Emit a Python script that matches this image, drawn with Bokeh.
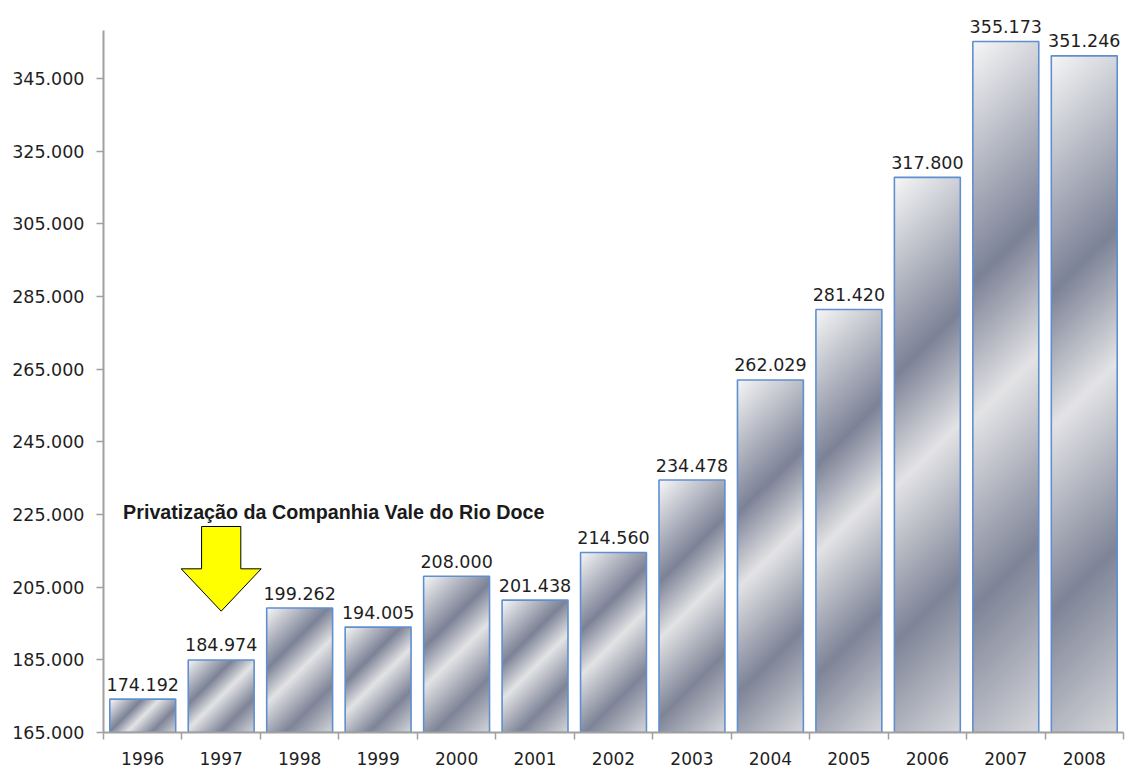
import numpy as np
from bokeh.plotting import figure
from bokeh.models import (Range1d, LinearAxis, FixedTicker, Label)
from bokeh.embed import file_html
from bokeh.resources import INLINE
from bokeh.core.properties import value

# ---------------- data ----------------
years = ["1996", "1997", "1998", "1999", "2000", "2001", "2002",
         "2003", "2004", "2005", "2006", "2007", "2008"]
production = [174192, 184974, 199262, 194005, 208000, 201438, 214560,
              234478, 262029, 281420, 317800, 355173, 351246]
y_ticks = [165000, 185000, 205000, 225000, 245000, 265000, 285000,
           305000, 325000, 345000]
annotation_text = "Privatização da Companhia Vale do Rio Doce"
annotated_year = "1997"


def fmt(v):
    return f"{v:,}".replace(",", ".")


# category centre positions on a numeric axis (one unit per year)
centers = [i + 0.5 for i in range(len(years))]
bounds = list(range(len(years) + 1))

# ---------------- layout / style ----------------
Y_MIN, Y_AXIS_TOP, Y_MAX = 165000, 358200, 364000
FIG_W, FIG_H = 1126, 770
B_L, B_R, B_T, B_B = 103, 3, 9, 38
BAR_W = 0.84
AXIS_GRAY = "#a0a0a0"
TEXT = "#1f1f1f"

p = figure(width=FIG_W, height=FIG_H,
           x_range=Range1d(0, len(years)),
           y_range=Range1d(Y_MIN, Y_MAX),
           output_backend="svg", toolbar_location=None,
           x_axis_location=None,
           min_border_left=B_L, min_border_right=B_R,
           min_border_top=B_T, min_border_bottom=B_B)
p.xgrid.visible = False
p.ygrid.visible = False
p.outline_line_color = None
p.background_fill_color = "white"
p.border_fill_color = "white"

# ---------------- gradient bar fills ----------------
frame_w = FIG_W - B_L - B_R
frame_h = FIG_H - B_T - B_B
cat_px = frame_w / len(years)
stops_t = [0.0, 0.32, 0.5, 0.75, 1.0]
stops_rgb = [(247, 247, 247), (125, 131, 151), (228, 228, 230),
             (127, 133, 152), (214, 215, 219)]


def gradient(w_px, h_px):
    w = max(int(round(w_px)), 2)
    h = max(int(round(h_px)), 2)
    xx, yy = np.meshgrid(np.arange(w), np.arange(h))
    y_top = (h - 1) - yy
    t = (xx + y_top) / float(w + h - 2)
    img = np.empty((h, w), dtype=np.uint32)
    view = img.view(dtype=np.uint8).reshape((h, w, 4))
    for c in range(3):
        view[..., c] = np.interp(t, stops_t, [s[c] for s in stops_rgb]).astype(np.uint8)
    view[..., 3] = 255
    return img


imgs, xs, ys, dws, dhs = [], [], [], [], []
for c, v in zip(centers, production):
    h_px = (v - Y_MIN) / (Y_MAX - Y_MIN) * frame_h
    imgs.append(gradient(BAR_W * cat_px, h_px))
    xs.append(c - BAR_W / 2)
    ys.append(Y_MIN)
    dws.append(BAR_W)
    dhs.append(v - Y_MIN)

p.image_rgba(image=imgs, x=xs, y=ys, dw=dws, dh=dhs)

p.vbar(x=centers, top=production, bottom=Y_MIN, width=BAR_W,
       fill_color=None, line_color="#5f8fcf", line_width=1.6)

# value labels
p.text(x=centers, y=production, text=[fmt(v) for v in production],
       text_align="center", text_baseline="alphabetic", y_offset=-15,
       text_font=value("DejaVu Sans"), text_font_size="17.5px",
       text_color=TEXT)

# ---------------- annotation arrow ----------------
cx = centers[years.index(annotated_year)]
SH, HH = 0.25, 0.51
A_TOP, A_SH, A_TIP = 221700, 210050, 198400
p.patch(x=[cx - SH, cx + SH, cx + SH, cx + HH, cx, cx - HH, cx - SH, cx - SH],
        y=[A_TOP, A_TOP, A_SH, A_SH, A_TIP, A_SH, A_SH, A_TOP],
        fill_color="#ffff00", line_color="black", line_width=1)

p.add_layout(Label(x=cx - 1.25, y=225600, text=annotation_text,
                   text_font="Liberation Sans", text_font_style="bold",
                   text_font_size="19.7px", text_color="#1a1a1a",
                   text_align="left", text_baseline="alphabetic"))

# ---------------- axes ----------------
yax = p.yaxis[0]
yax.ticker = FixedTicker(ticks=y_ticks)
yax.bounds = (Y_MIN, Y_AXIS_TOP)
yax.major_label_overrides = {t: fmt(t) for t in y_ticks}
yax.axis_line_color = AXIS_GRAY
yax.axis_line_width = 2
yax.major_tick_line_color = AXIS_GRAY
yax.major_tick_line_width = 1.5
yax.major_tick_out = 7
yax.major_tick_in = 0
yax.minor_tick_line_color = None
yax.major_label_standoff = 12
yax.major_label_text_font = "DejaVu Sans"
yax.major_label_text_font_size = "17.5px"
yax.major_label_text_color = TEXT

bound_axis = LinearAxis(ticker=FixedTicker(ticks=bounds),
                        major_label_overrides={b: "" for b in bounds},
                        major_label_text_font_size="0px",
                        major_label_standoff=0,
                        axis_line_color=AXIS_GRAY, axis_line_width=2,
                        major_tick_line_color=AXIS_GRAY, major_tick_line_width=1.5,
                        major_tick_out=7, major_tick_in=0,
                        minor_tick_line_color=None)
p.add_layout(bound_axis, "below")

label_axis = LinearAxis(ticker=FixedTicker(ticks=centers),
                        major_label_overrides=dict(zip(centers, years)),
                        axis_line_color=None, major_tick_line_color=None,
                        minor_tick_line_color=None,
                        major_tick_out=0, major_tick_in=0,
                        major_label_standoff=12,
                        major_label_text_font="DejaVu Sans",
                        major_label_text_font_size="17px",
                        major_label_text_color=TEXT)
p.add_layout(label_axis, "below")

open("out.html", "w").write(file_html(p, INLINE))
